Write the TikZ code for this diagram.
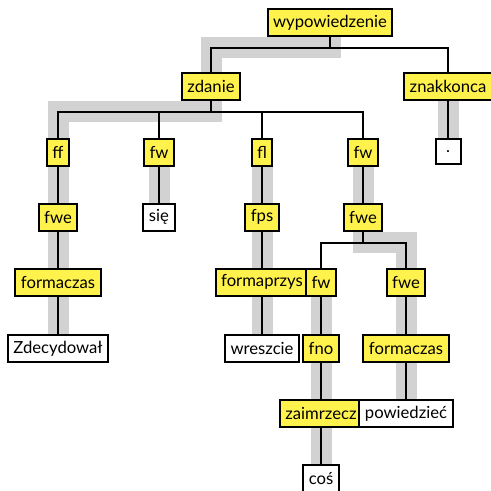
\documentclass[tikz,border=0pt]{standalone}
\usepackage{fontspec}
\setmainfont{Lato}
\usepackage{tikz}
\usetikzlibrary{backgrounds}
\definecolor{nodeyellow}{RGB}{255,242,77}

\begin{document}
\begin{tikzpicture}[x=0.6pt,y=-0.6pt,
  box/.style={draw,line width=1.2pt,anchor=north,inner xsep=3.3pt,inner ysep=0pt,minimum height=16pt},
  nt/.style={box,fill=nodeyellow},
  word/.style={box,fill=white},
  edge/.style={draw,line width=1.2pt},
  hl/.style={draw=gray!35,line width=12.6pt}]
\useasboundingbox (0,0) rectangle (491,491);
\node[nt] (top) at (330,8) {wypowiedzenie};
\node[nt] (zdanie) at (211,72) {zdanie};
\node[nt] (znak) at (448,72) {znakkonca};
\node[nt] (ff) at (58,138) {ff};
\node[nt] (fw1) at (159,138) {fw};
\node[nt] (fl) at (262,138) {fl};
\node[nt] (fw2) at (363,138) {fw};
\node[word,minimum width=15pt,minimum height=15pt] (kropka) at (448,138) {.};
\node[nt] (fwe1) at (58,203) {fwe};
\node[word] (sie) at (159,203) {się};
\node[nt] (fps) at (262,203) {fps};
\node[nt] (fwe2) at (363,203) {fwe};
\node[nt] (fc1) at (58,268) {formaczas};
\node[nt] (fp) at (262,268) {formaprzys};
\node[nt] (fw3) at (321,268) {fw};
\node[nt] (fwe3) at (406,268) {fwe};
\node[word] (zdec) at (58,334) {Zdecydował};
\node[word] (wresz) at (262,334) {wreszcie};
\node[nt] (fno) at (321,334) {fno};
\node[nt] (fc2) at (406,334) {formaczas};
\node[nt] (zaim) at (321,399) {zaimrzecz};
\node[word] (pow) at (406,399) {powiedzieć};
\node[word] (cos) at (321,464) {coś};
\begin{scope}[on background layer]
% highlighted path
\draw[hl] (top.south) -- ++(0,11) -| (zdanie.north)
  (zdanie.south) -- ++(0,11) -| (ff.north)
  (znak.south) -- (kropka.north)
  (ff.south) -- (fwe1.north) (fwe1.south) -- (fc1.north) (fc1.south) -- (zdec.north)
  (fw1.south) -- (sie.north)
  (fl.south) -- (fps.north) (fps.south) -- (fp.north) (fp.south) -- (wresz.north)
  (fw2.south) -- (fwe2.north) (fwe2.south) -- ++(0,11) -| (fwe3.north)
  (fw3.south) -- (fno.north) (fno.south) -- (zaim.north) (zaim.south) -- (cos.north)
  (fwe3.south) -- (fc2.north) (fc2.south) -- (pow.north);
% tree edges
\draw[edge] (top.south) -- ++(0,11) -| (zdanie.north) (top.south) -- ++(0,11) -| (znak.north);
\draw[edge] (zdanie.south) -- ++(0,11) -| (ff.north) (zdanie.south) -- ++(0,11) -| (fw1.north)
  (zdanie.south) -- ++(0,11) -| (fl.north) (zdanie.south) -- ++(0,11) -| (fw2.north);
\draw[edge] (znak.south) -- (kropka.north);
\draw[edge] (ff.south) -- (fwe1.north) (fwe1.south) -- (fc1.north) (fc1.south) -- (zdec.north);
\draw[edge] (fw1.south) -- (sie.north);
\draw[edge] (fl.south) -- (fps.north) (fps.south) -- (fp.north) (fp.south) -- (wresz.north);
\draw[edge] (fw2.south) -- (fwe2.north);
\draw[edge] (fwe2.south) -- ++(0,11) -| (fw3.north) (fwe2.south) -- ++(0,11) -| (fwe3.north);
\draw[edge] (fw3.south) -- (fno.north) (fno.south) -- (zaim.north) (zaim.south) -- (cos.north);
\draw[edge] (fwe3.south) -- (fc2.north) (fc2.south) -- (pow.north);
\end{scope}
\end{tikzpicture}
\end{document}
